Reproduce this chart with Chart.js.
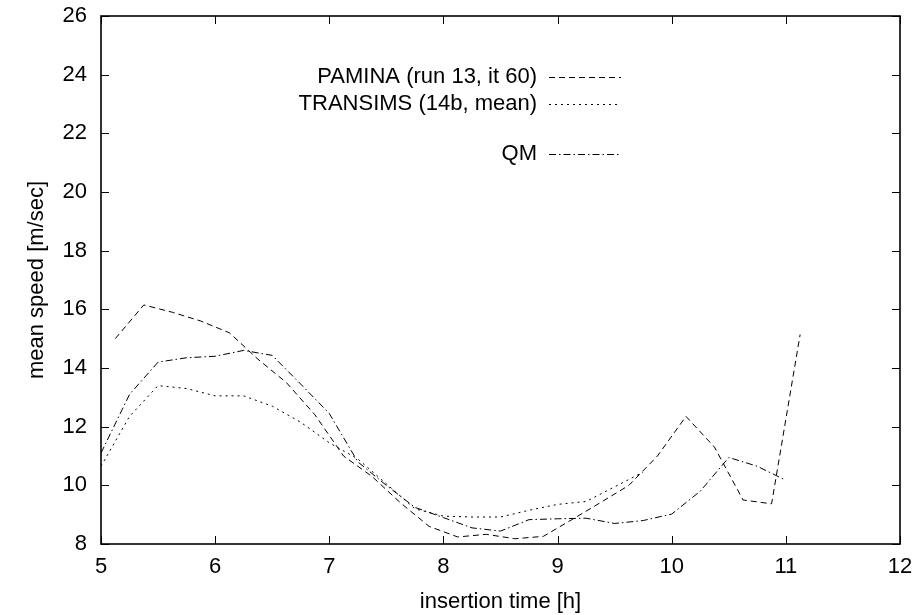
<!DOCTYPE html>
<html>
<head>
<meta charset="utf-8">
<script src="https://cdn.jsdelivr.net/npm/chart.js@4.4.1/dist/chart.umd.min.js"></script>
<style>
html, body { margin: 0; padding: 0; background: #fff; }
#wrap { width: 916px; height: 615px; }
</style>
</head>
<body>
<div id="wrap"><canvas id="chart" width="916" height="615"></canvas></div>
<script>
// insertion time [h] and mean speed [m/sec]
var pamTime = [5.125, 5.375, 5.625, 5.875, 6.125, 6.375, 6.625, 6.875, 7.125, 7.375, 7.625, 7.875,
	8.125, 8.375, 8.625, 8.875, 9.125, 9.375, 9.625, 9.875, 10.125, 10.375, 10.625, 10.875, 11.125];
var pamSpeed = [15.0, 16.15, 15.9, 15.6, 15.2, 14.3, 13.5, 12.4, 11.0, 10.3, 9.4, 8.6,
	8.24, 8.33, 8.18, 8.26, 8.83, 9.41, 10.0, 11.0, 12.35, 11.3, 9.5, 9.37, 15.14];

var trTime = [5.0, 5.25, 5.5, 5.75, 6.0, 6.25, 6.5, 6.75, 7.0, 7.25, 7.5, 7.75,
	8.0, 8.25, 8.5, 8.75, 9.0, 9.25, 9.5, 9.75];
var trSpeed = [10.65, 12.35, 13.4, 13.3, 13.05, 13.05, 12.7, 12.15, 11.45, 10.9, 10.05, 9.2,
	8.95, 8.92, 8.92, 9.15, 9.35, 9.45, 9.95, 10.45];

var qmTime = [5.0, 5.25, 5.5, 5.75, 6.0, 6.25, 6.5, 6.75, 7.0, 7.25, 7.5, 7.75,
	8.0, 8.25, 8.5, 8.75, 9.0, 9.25, 9.5, 9.75, 10.0, 10.25, 10.5, 10.75, 11.0];
var qmSpeed = [11.1, 13.1, 14.2, 14.35, 14.4, 14.6, 14.43, 13.45, 12.45, 10.8, 10.0, 9.25,
	8.9, 8.55, 8.44, 8.83, 8.86, 8.88, 8.7, 8.8, 9.02, 9.8, 10.95, 10.65, 10.17];

var xTicks = [5, 6, 7, 8, 9, 10, 11, 12];
var yTicks = [8, 10, 12, 14, 16, 18, 20, 22, 24, 26];
var seriesNames = ["PAMINA (run 13, it 60)", "TRANSIMS (14b, mean)", "QM"];
var dashes = [[6, 4], [2, 4], [7, 3, 1.5, 3]];

function pts(xs, ys) {
	return xs.map(function(x, i) { return { x: x, y: ys[i] }; });
}

var FONT = "Liberation Sans, Arial, sans-serif";
var FSIZE = 22;

// gnuplot style box with inward ticks and the key in the upper part
var framePlugin = {
	id: "frame",
	afterDatasetsDraw: function(chart) {
		var ctx = chart.ctx, a = chart.chartArea;
		var xs = chart.scales.x, ys = chart.scales.y;
		ctx.save();
		ctx.strokeStyle = "#000";
		ctx.lineWidth = 1;
		ctx.setLineDash([]);
		ctx.beginPath();
		xTicks.forEach(function(t) {
			var px = Math.round(xs.getPixelForValue(t)) + 0.5;
			ctx.moveTo(px, a.bottom); ctx.lineTo(px, a.bottom - 8);
			ctx.moveTo(px, a.top); ctx.lineTo(px, a.top + 8);
		});
		yTicks.forEach(function(t) {
			var py = Math.round(ys.getPixelForValue(t)) + 0.5;
			ctx.moveTo(a.left, py); ctx.lineTo(a.left + 8, py);
			ctx.moveTo(a.right, py); ctx.lineTo(a.right - 8, py);
		});
		ctx.stroke();
		ctx.lineWidth = 1.6;
		ctx.strokeRect(a.left, a.top, a.right - a.left, a.bottom - a.top);

		// key
		var keyY = [77, 104, 154];
		ctx.font = FSIZE + "px " + FONT;
		ctx.fillStyle = "#000";
		ctx.textAlign = "right";
		ctx.textBaseline = "middle";
		ctx.lineWidth = 1;
		seriesNames.forEach(function(name, i) {
			ctx.fillText(name, 537, keyY[i]);
			ctx.setLineDash(dashes[i]);
			ctx.beginPath();
			ctx.moveTo(549, keyY[i] + 0.5);
			ctx.lineTo(621, keyY[i] + 0.5);
			ctx.stroke();
		});
		ctx.restore();
	}
};

function lineSet(label, xs, ys, dash) {
	return {
		label: label,
		data: pts(xs, ys),
		showLine: true,
		borderColor: "#000",
		borderWidth: 1,
		borderDash: dash,
		pointRadius: 0,
		fill: false,
		tension: 0
	};
}

new Chart(document.getElementById("chart"), {
	type: "scatter",
	data: {
		datasets: [
			lineSet(seriesNames[0], pamTime, pamSpeed, dashes[0]),
			lineSet(seriesNames[1], trTime, trSpeed, dashes[1]),
			lineSet(seriesNames[2], qmTime, qmSpeed, dashes[2])
		]
	},
	options: {
		responsive: false,
		animation: false,
		devicePixelRatio: 1,
		layout: { padding: { top: 16, right: 16, left: 0, bottom: 0 } },
		plugins: { legend: { display: false }, tooltip: { enabled: false } },
		scales: {
			x: {
				type: "linear",
				min: 5, max: 12,
				afterBuildTicks: function(s) { s.ticks = xTicks.map(function(v) { return { value: v }; }); },
				afterFit: function(s) { s.height = 71; s.paddingLeft = 0; s.paddingRight = 0; },
				grid: { display: false, drawTicks: false },
				border: { display: false },
				ticks: { color: "#000", font: { family: FONT, size: FSIZE }, padding: 10, maxRotation: 0 },
				title: { display: true, text: "insertion time [h]", color: "#000", font: { family: FONT, size: FSIZE }, padding: { top: 0, bottom: 0 } }
			},
			y: {
				type: "linear",
				min: 8, max: 26,
				afterBuildTicks: function(s) { s.ticks = yTicks.map(function(v) { return { value: v }; }); },
				afterFit: function(s) { s.width = 101; s.paddingTop = 0; s.paddingBottom = 0; },
				grid: { display: false, drawTicks: false },
				border: { display: false },
				ticks: { color: "#000", font: { family: FONT, size: FSIZE }, padding: 14 },
				title: { display: true, text: "mean speed [m/sec]", color: "#000", font: { family: FONT, size: FSIZE }, padding: { top: 24, bottom: 0 } }
			}
		}
	},
	plugins: [framePlugin]
});
</script>
</body>
</html>
